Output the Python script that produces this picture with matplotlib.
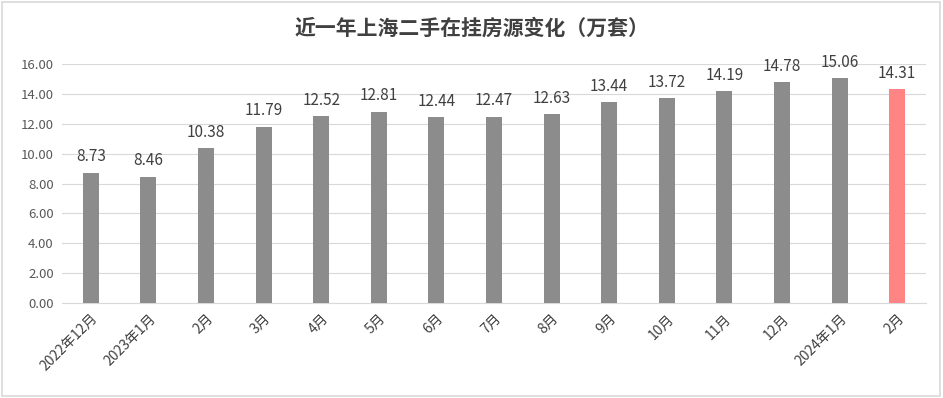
import matplotlib.pyplot as plt
from matplotlib.patches import Rectangle

plt.rcParams['font.family'] = ['Noto Sans CJK SC', 'DejaVu Sans']

months = ["2022年12月", "2023年1月", "2月", "3月", "4月", "5月", "6月", "7月",
          "8月", "9月", "10月", "11月", "12月", "2024年1月", "2月"]
listings = [8.73, 8.46, 10.38, 11.79, 12.52, 12.81, 12.44, 12.47,
            12.63, 13.44, 13.72, 14.19, 14.78, 15.06, 14.31]
yticks = [0, 2, 4, 6, 8, 10, 12, 14, 16]

fig = plt.figure(figsize=(9.43, 3.98), dpi=100)
fig.patches.append(Rectangle((0.002, 0.004), 0.995, 0.992, transform=fig.transFigure,
                             fill=False, edgecolor="#d9d9d9", linewidth=1.2))
ax = fig.add_axes([0.0657, 0.2387, 0.9163, 0.6003])

x = list(range(len(months)))
colors = ["#8c8c8c"] * (len(months) - 1) + ["#ff8585"]
bars = ax.bar(x, listings, width=0.28, color=colors, zorder=3)

for xi, v in zip(x, listings):
    ax.text(xi, v + 0.5, f"{v:.2f}", ha="center", va="bottom",
            fontsize=11, color="#404040")

ax.set_xlim(-0.5, len(months) - 0.5)
ax.set_ylim(0, 16)
ax.set_yticks(yticks)
ax.set_yticklabels([f"{t:.2f}" for t in yticks], fontsize=9.5, color="#595959")
ax.set_xticks(x)
ax.set_xticklabels(months, rotation=45, ha="right", rotation_mode="anchor",
                   fontsize=10, color="#404040")
ax.tick_params(axis="both", length=0, pad=6)
ax.grid(axis="y", color="#d9d9d9", linewidth=0.8, zorder=0)
for side in ["top", "right", "left"]:
    ax.spines[side].set_visible(False)
ax.spines["bottom"].set_color("#d9d9d9")

fig.text(0.5, 0.93, "近一年上海二手在挂房源变化（万套）", ha="center", va="center",
         fontsize=15, fontweight="bold", color="#404040")

fig.savefig("out.png", dpi=100)
